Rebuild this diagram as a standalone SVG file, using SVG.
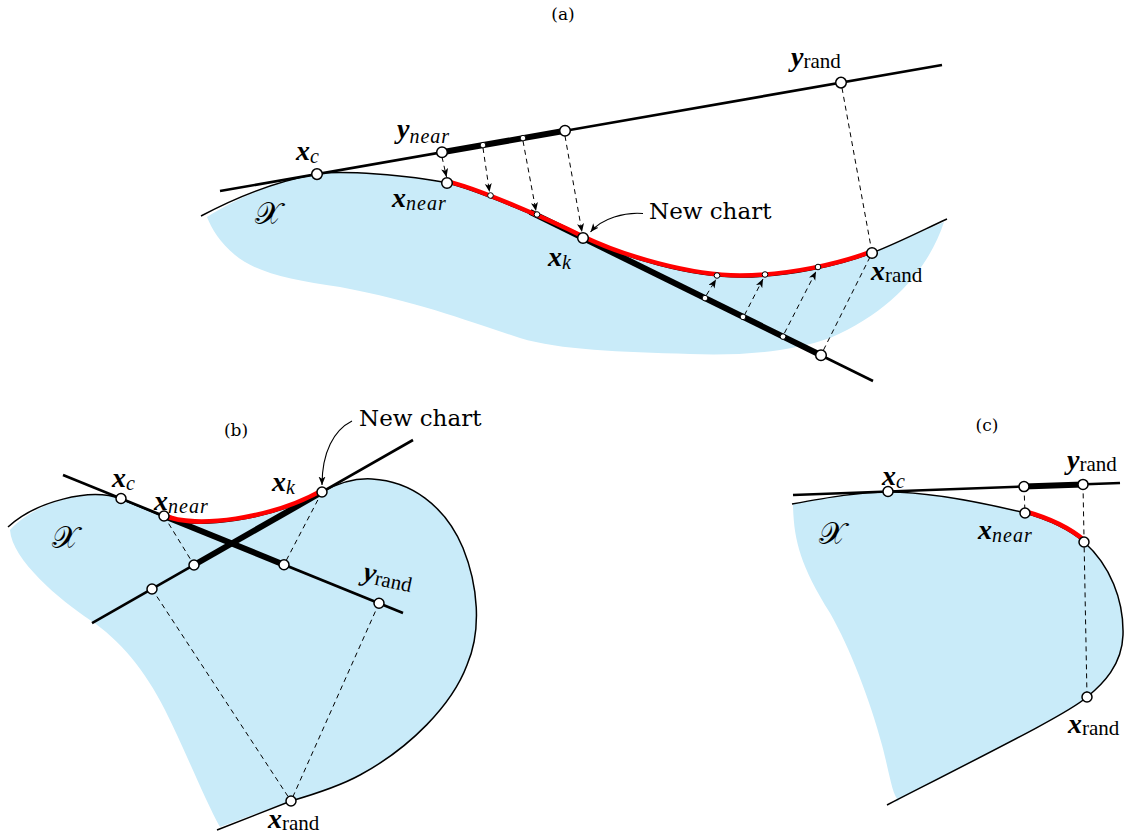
<svg xmlns="http://www.w3.org/2000/svg" width="1129" height="840" viewBox="0 0 1129 840">
<style>
.region{fill:#c9ebf9;stroke:none}
.bd{fill:none;stroke:#000;stroke-width:1.5}
.chart{fill:none;stroke:#000;stroke-width:2.6;stroke-linecap:butt}
.thick{fill:none;stroke:#000;stroke-width:6;stroke-linecap:butt}
.red{fill:none;stroke:#f00;stroke-width:4.5;stroke-linecap:butt}
.dash{fill:none;stroke:#000;stroke-width:1;stroke-dasharray:5 4}
.ptr{fill:none;stroke:#000;stroke-width:1.1}
.big{fill:#fff;stroke:#000;stroke-width:1.5}
.small{fill:#fff;stroke:#000;stroke-width:1}
.mv{font-family:"Liberation Serif",serif;font-weight:bold;font-style:italic;font-size:28px}
.sub{font-family:"Liberation Serif",serif;font-style:italic;font-size:20px;letter-spacing:1px}
.rm{font-family:"Liberation Serif",serif;font-size:21px}
.cal{font-family:"DejaVu Serif","DejaVu Sans",serif;font-size:31px}
.ttl{font-family:"DejaVu Serif",serif;font-size:17px;text-anchor:middle}
.nc{font-family:"DejaVu Serif",serif;font-size:23px}
</style>
<defs>
<marker id="ah" markerUnits="userSpaceOnUse" markerWidth="10" markerHeight="8" refX="8.5" refY="3.5" orient="auto">
<path d="M0,0 L8.5,3.5 L0,7 L2.2,3.5 Z" fill="#000"/>
</marker>
</defs>

<!-- ============ Panel (a) ============ -->
<g id="panel-a">
<text class="ttl" x="563" y="20">(a)</text>
<path id="region-a" class="region" d="M207,217 C250,190 290,178.7 317,174 C340,170 410,175 447,183 C477,189.5 553,223.2 583,238 C625,258 690,277 740,277 C790,277 840,265 872,253 C900,242 920,232 944,222 C930,265 895,310 830,338 C790,352 740,356 690,354 C620,352 560,350 520,338 C470,322 420,302 340,287 C290,280 255,272 235,255 C220,242 212,230 207,217 Z"/>
<path id="boundary-a" class="bd" d="M201,216 C250,190 290,178.7 317,174 C340,170 410,175 447,183 C477,189.5 553,223.2 583,238 C625,258 690,277 740,277 C790,277 840,265 872,253 C900,242 925,229 947,219"/>
<g id="charts-a">
<line class="chart" x1="220" y1="191" x2="942" y2="65"/>
<line class="thick" x1="442" y1="152.3" x2="565" y2="130.8"/>
<line class="chart" x1="530" y1="211.9" x2="873" y2="381"/>
<line class="thick" x1="530" y1="211.9" x2="821" y2="355.3"/>
</g>
<path id="newchart-a" class="red" transform="translate(0,-1.6)" d="M447,183 C477,189.5 553,223.2 583,238 C625,258 690,277 740,277 C790,277 840,265 872,253"/>
<g id="connectors-a">
<line class="dash" x1="442" y1="157" x2="446.5" y2="177" marker-end="url(#ah)"/>
<line class="dash" x1="483" y1="148" x2="489.5" y2="192" marker-end="url(#ah)"/>
<line class="dash" x1="523" y1="141" x2="536" y2="211" marker-end="url(#ah)"/>
<line class="dash" x1="565" y1="136" x2="582" y2="232" marker-end="url(#ah)"/>
<line class="dash" x1="842" y1="88" x2="871" y2="247"/>
<line class="dash" x1="706.5" y1="295" x2="716" y2="279.5" marker-end="url(#ah)"/>
<line class="dash" x1="744.5" y1="315" x2="763" y2="279" marker-end="url(#ah)"/>
<line class="dash" x1="784.5" y1="333" x2="816" y2="271.5" marker-end="url(#ah)"/>
<line class="dash" x1="823.5" y1="350" x2="869.5" y2="258"/>
<path class="ptr" d="M643,213.5 C625,212 602,218 590.5,232" marker-end="url(#ah)"/>
</g>
<g id="node-a-xc"><circle class="big" cx="317" cy="174.1" r="5.3"/><text x="296" y="160"><tspan class="mv">x</tspan><tspan class="sub" dy="3">c</tspan></text></g>
<g id="node-a-ynear"><circle class="big" cx="442" cy="152.3" r="5.3"/><text x="397" y="138"><tspan class="mv">y</tspan><tspan class="sub" dy="5">near</tspan></text></g>
<g id="node-a-xnear"><circle class="big" cx="447" cy="183" r="5.3"/><text x="392" y="207"><tspan class="mv">x</tspan><tspan class="sub" dy="3">near</tspan></text></g>
<g id="node-a-y1"><circle class="small" cx="483" cy="145.1" r="2.8"/></g>
<g id="node-a-y2"><circle class="small" cx="523" cy="138.1" r="2.8"/></g>
<g id="node-a-y3"><circle class="big" cx="565" cy="130.8" r="5.3"/></g>
<g id="node-a-c1"><circle class="small" cx="490.5" cy="195.5" r="2.8"/></g>
<g id="node-a-c2"><circle class="small" cx="537" cy="214.5" r="2.8"/></g>
<g id="node-a-xk"><circle class="big" cx="583" cy="238" r="5.3"/><text x="548" y="266"><tspan class="mv">x</tspan><tspan class="sub" dy="3">k</tspan></text></g>
<g id="node-a-t1"><circle class="small" cx="705" cy="298.1" r="2.8"/></g>
<g id="node-a-t2"><circle class="small" cx="743" cy="316.9" r="2.8"/></g>
<g id="node-a-t3"><circle class="small" cx="783" cy="336.6" r="2.8"/></g>
<g id="node-a-t4"><circle class="big" cx="821" cy="355.3" r="5.3"/></g>
<g id="node-a-c3"><circle class="small" cx="717" cy="275.5" r="2.8"/></g>
<g id="node-a-c4"><circle class="small" cx="765" cy="274.5" r="2.8"/></g>
<g id="node-a-c5"><circle class="small" cx="818" cy="267" r="2.8"/></g>
<g id="node-a-xrand"><circle class="big" cx="872" cy="253" r="5.3"/><text x="871" y="280"><tspan class="mv">x</tspan><tspan class="rm" dy="2">rand</tspan></text></g>
<g id="node-a-yrand"><circle class="big" cx="841" cy="82.6" r="5.3"/><text x="791" y="66"><tspan class="mv">y</tspan><tspan class="rm" dy="2">rand</tspan></text></g>
<text class="cal" x="255" y="224">𝒳</text>
<text class="nc" x="649" y="219">New chart</text>
</g>

<!-- ============ Panel (b) ============ -->
<g id="panel-b">
<text class="ttl" x="236" y="436">(b)</text>
<path id="region-b" class="region" d="M10,530 C12,560 60,600 90,620 C120,640 145,670 165,710 C185,750 205,800 220,827 L291,801 C315,794 340,786 360,775 C410,748 452,705 467,665 C482,630 478,585 463,548 C445,505 410,481 372,479 C355,478 340,482 322,492 C272,520 195,531 164,517 L121,499 C90,487 35,502 10,530 Z"/>
<path id="boundary-b" class="bd" d="M8,527 C35,502 90,487 121,499 L164,517 C195,531 272,520 322,492 C340,482 355,478 372,479 C410,481 445,505 463,548 C478,585 482,630 467,665 C452,705 410,748 360,775 C340,786 315,794 291,801 L217,830"/>
<g id="charts-b">
<line class="chart" x1="63" y1="475" x2="403" y2="613"/>
<line class="thick" x1="164" y1="516" x2="284" y2="564.7"/>
<line class="chart" x1="92" y1="623.2" x2="413" y2="440"/>
<line class="thick" x1="194" y1="565" x2="322" y2="492"/>
</g>
<path id="newchart-b" class="red" transform="translate(0,-1.6)" d="M164,517 C195,531 272,520 322,492"/>
<g id="connectors-b">
<line class="dash" x1="164" y1="516" x2="194" y2="565"/>
<line class="dash" x1="322" y1="492" x2="284" y2="564.7"/>
<line class="dash" x1="152" y1="589" x2="291" y2="801"/>
<line class="dash" x1="379" y1="603.3" x2="291" y2="801"/>
<path class="ptr" d="M352,421 C334,430 322,452 322,485" marker-end="url(#ah)"/>
</g>
<g id="node-b-xc"><circle class="big" cx="121" cy="498.5" r="5"/><text x="112" y="487"><tspan class="mv">x</tspan><tspan class="sub" dy="3">c</tspan></text></g>
<g id="node-b-xnear"><circle class="big" cx="164" cy="516" r="5"/><text x="154" y="510"><tspan class="mv">x</tspan><tspan class="sub" dy="3">near</tspan></text></g>
<g id="node-b-xk"><circle class="big" cx="322" cy="492" r="5"/><text x="272" y="491"><tspan class="mv">x</tspan><tspan class="sub" dy="3">k</tspan></text></g>
<g id="node-b-p1"><circle class="big" cx="284" cy="564.7" r="5"/></g>
<g id="node-b-p2"><circle class="big" cx="194" cy="565" r="5"/></g>
<g id="node-b-p3"><circle class="big" cx="152" cy="589" r="5"/></g>
<g id="node-b-yrand"><circle class="big" cx="379" cy="603.3" r="5"/><text x="362" y="580" transform="rotate(12 362 580)"><tspan class="mv">y</tspan><tspan class="rm" dy="2">rand</tspan></text></g>
<g id="node-b-xrand"><circle class="big" cx="291" cy="801" r="5"/><text x="268" y="828"><tspan class="mv">x</tspan><tspan class="rm" dy="2">rand</tspan></text></g>
<text class="cal" x="52" y="548">𝒳</text>
<text class="nc" x="359" y="426">New chart</text>
</g>

<!-- ============ Panel (c) ============ -->
<g id="panel-c">
<text class="ttl" x="987" y="431">(c)</text>
<path id="region-c" class="region" d="M793,506 C794,540 800,565 830,613 C850,648 870,700 882,745 C890,775 892,795 899,801 L893,802 C1010,742 1070,712 1087,697 C1103,684 1122,665 1123,635 C1124,600 1110,565 1084,542 C1070,530 1050,520 1025,513 C980,502 930,492 888,492 C860,492 830,497 793,504 Z"/>
<path id="boundary-c" class="bd" d="M792,504 C830,497 860,492 888,492 C930,492 980,502 1025,513 C1050,520 1070,530 1084,542 C1110,565 1124,600 1123,635 C1122,665 1103,684 1087,697 C1070,712 1010,742 887,805"/>
<g id="charts-c">
<line class="chart" x1="793" y1="495" x2="1120" y2="483"/>
<line class="thick" x1="1024" y1="486.6" x2="1083" y2="484.4"/>
</g>
<path id="newchart-c" class="red" transform="translate(0.5,-1.5)" d="M1025,513 C1050,520 1070,530 1084,542"/>
<g id="connectors-c">
<line class="dash" x1="1024" y1="486.6" x2="1025" y2="513"/>
<line class="dash" x1="1083" y1="484.4" x2="1087" y2="697"/>
</g>
<g id="node-c-xc"><circle class="big" cx="888" cy="491.5" r="5"/><text x="882" y="485"><tspan class="mv">x</tspan><tspan class="sub" dy="3">c</tspan></text></g>
<g id="node-c-p1"><circle class="big" cx="1024" cy="486.6" r="5"/></g>
<g id="node-c-yrand"><circle class="big" cx="1083" cy="484.4" r="5"/><text x="1067" y="469"><tspan class="mv">y</tspan><tspan class="rm" dy="2">rand</tspan></text></g>
<g id="node-c-xnear"><circle class="big" cx="1025" cy="513" r="5"/><text x="978" y="539"><tspan class="mv">x</tspan><tspan class="sub" dy="3">near</tspan></text></g>
<g id="node-c-p2"><circle class="big" cx="1084" cy="542" r="5"/></g>
<g id="node-c-xrand"><circle class="big" cx="1087" cy="697" r="5"/><text x="1068" y="733"><tspan class="mv">x</tspan><tspan class="rm" dy="2">rand</tspan></text></g>
<text class="cal" x="819" y="544">𝒳</text>
</g>
</svg>
